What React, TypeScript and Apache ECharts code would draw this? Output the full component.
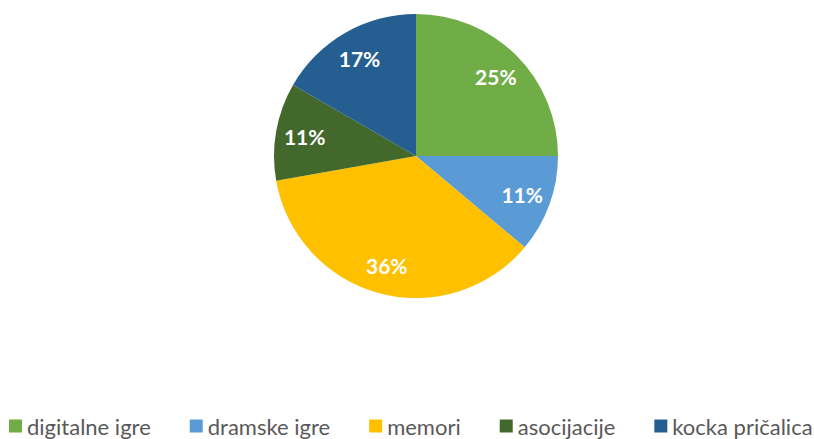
import React, { useEffect, useRef } from "react";
import * as echarts from "echarts";

const categories = ["digitalne igre", "dramske igre", "memori", "asocijacije", "kocka pričalica"];
const values = [9, 4, 13, 4, 6];
const colors = ["#70AD47", "#5B9BD5", "#FFC000", "#43682B", "#255E91"];

export default function App() {
  const ref = useRef<HTMLDivElement>(null);
  useEffect(() => {
    document.body.style.margin = "0";
    const chart = echarts.init(ref.current!, null, { renderer: "svg" });
    const data = categories.map((name, i) => ({ name, value: values[i] }));
    chart.setOption({
      animation: false,
      backgroundColor: "#ffffff",
      color: colors,
      legend: {
        data: categories,
        left: 9,
        top: 414,
        padding: 0,
        icon: "rect",
        itemWidth: 13,
        itemHeight: 13,
        itemGap: 39,
        textStyle: { fontFamily: "Lato", fontSize: 22, color: "#595959", lineHeight: 24 },
      },
      series: [
        {
          type: "pie",
          center: [416, 156],
          radius: 142,
          startAngle: 90,
          clockwise: true,
          data,
          label: { show: false },
          labelLine: { show: false },
          itemStyle: { borderWidth: 0 },
          emphasis: { disabled: true },
        },
        {
          type: "pie",
          center: [416, 156],
          radius: [78, 142],
          startAngle: 90,
          clockwise: true,
          silent: true,
          data,
          legendHoverLink: false,
          itemStyle: { color: "transparent", borderWidth: 0 },
          label: {
            show: true,
            position: "inside",
            formatter: (p: any) => Math.round(p.percent) + "%",
            color: "#ffffff",
            fontFamily: "Lato",
            fontWeight: "bold",
            fontSize: 21,
          },
          labelLine: { show: false },
          emphasis: { disabled: true },
        },
      ],
    });
    return () => chart.dispose();
  }, []);
  return <div ref={ref} style={{ width: 814, height: 439 }} />;
}
